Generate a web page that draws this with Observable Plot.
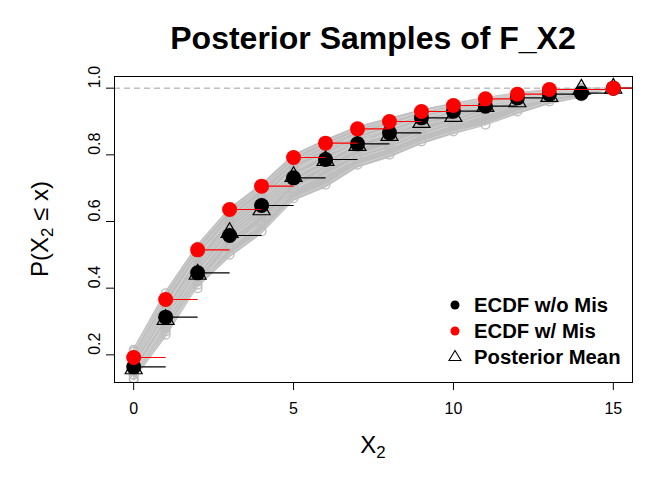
<!DOCTYPE html>
<html><head><meta charset="utf-8">
<script src="https://cdn.jsdelivr.net/npm/d3@7"></script>
<script src="https://cdn.jsdelivr.net/npm/@observablehq/plot@0.6"></script>
<style>
body{margin:0;background:#fff;font-family:"Liberation Sans",Arial,sans-serif;}
#wrap{position:relative;width:672px;height:480px;overflow:hidden;}
.abs{position:absolute;white-space:nowrap;color:#000;}
sub{font-size:70%;vertical-align:-0.3em;line-height:0;}
.leg{position:absolute;left:445px;font-weight:bold;font-size:20.3px;line-height:26px;}
.leg div{display:flex;align-items:center;height:26px;}
.leg svg{width:20px;height:20px;margin-right:9px;}
</style></head><body><div id="wrap"></div>
<script>
// support points
const xs = [0,1,2,3,4,5,6,7,8,9,10,11,12,13,14,15];
// ECDF without missing data (black)
const ecdfObsX = [0,1,2,3,4,5,6,7,8,9,10,11,12,13,14,15];
const ecdfObs  = [0.164,0.313,0.446,0.558,0.648,0.731,0.786,0.833,0.866,0.911,0.931,0.946,0.971,0.982,0.985,1.0];
// ECDF with missing data (red)
const ecdfMisX = [0,1,2,3,4,5,6,7,8,9,10,11,12,13,15];
const ecdfMis  = [0.192,0.366,0.515,0.636,0.706,0.792,0.835,0.878,0.900,0.930,0.948,0.968,0.982,0.996,1.0];
// posterior mean (triangles)
const postMean = [0.158,0.306,0.442,0.567,0.635,0.735,0.783,0.828,0.858,0.897,0.915,0.945,0.959,0.975,0.997,1.0];
// posterior sample band (lowest / highest sample at each x)
const bandLo = [0.120,0.250,0.400,0.490,0.560,0.660,0.700,0.760,0.790,0.830,0.860,0.886,0.920,0.950,0.970,1.0];
const bandHi = [0.218,0.390,0.530,0.640,0.712,0.800,0.845,0.885,0.910,0.935,0.955,0.972,0.986,0.997,1.0,1.0];
// a few posterior sample ECDFs
const samples = [
 [0.125,0.26,0.41,0.50,0.57,0.67,0.71,0.77,0.80,0.84,0.87,0.89,0.93,0.96,0.975,1],
 [0.215,0.385,0.525,0.635,0.705,0.795,0.84,0.88,0.905,0.93,0.95,0.97,0.985,0.995,1,1],
 [0.15,0.29,0.43,0.55,0.62,0.72,0.77,0.82,0.85,0.89,0.91,0.94,0.96,0.98,0.99,1],
 [0.18,0.33,0.47,0.59,0.66,0.76,0.80,0.85,0.88,0.91,0.93,0.955,0.97,0.985,0.995,1],
 [0.14,0.30,0.45,0.56,0.63,0.73,0.79,0.83,0.87,0.90,0.92,0.95,0.965,0.98,0.99,1],
 [0.20,0.35,0.49,0.61,0.68,0.77,0.82,0.86,0.89,0.92,0.94,0.96,0.975,0.99,0.995,1],
 [0.13,0.27,0.42,0.52,0.60,0.70,0.74,0.79,0.82,0.86,0.89,0.92,0.95,0.97,0.985,1],
 [0.17,0.31,0.44,0.57,0.64,0.74,0.78,0.84,0.86,0.90,0.925,0.945,0.96,0.98,0.99,1],
 [0.19,0.34,0.50,0.60,0.67,0.75,0.81,0.86,0.89,0.92,0.945,0.965,0.98,0.99,1,1],
 [0.16,0.32,0.46,0.58,0.65,0.75,0.80,0.84,0.88,0.91,0.935,0.95,0.97,0.985,0.995,1],
 [0.21,0.37,0.51,0.62,0.70,0.78,0.83,0.87,0.90,0.93,0.95,0.97,0.98,0.99,1,1],
 [0.14,0.28,0.40,0.53,0.59,0.69,0.76,0.80,0.83,0.87,0.90,0.93,0.955,0.975,0.99,1]
];
const xTicks = [0,5,10,15];
const yTicks = [0.2,0.4,0.6,0.8,1.0];

const band = xs.map((x,i)=>({x, lo:bandLo[i], hi:bandHi[i]}));
const sampleRows = samples.flatMap((s,k)=>s.map((y,i)=>({s:k, x:xs[i], y})));
const steps = (X,Y)=>X.map((x,i)=>({x, x2: i<X.length-1 ? X[i+1] : x+1, y:Y[i]}));
const blackRows = steps(ecdfObsX, ecdfObs);
const redRows = steps(ecdfMisX, ecdfMis);
const meanRows = xs.map((x,i)=>({x, y:postMean[i]}));

const plot = Plot.plot({
  width:672, height:480,
  marginLeft:114, marginRight:40, marginTop:76, marginBottom:98,
  x:{domain:[-0.6,15.6]},
  y:{domain:[0.117,1.035]},
  style:{fontFamily:"Liberation Sans, Arial, sans-serif", fontSize:"16px", background:"white", color:"black"},
  marks:[
    Plot.areaY(band,{x:"x", y1:"lo", y2:"hi", fill:"#bebebe", clip:true}),
    Plot.line(sampleRows,{x:"x", y:"y", z:"s", stroke:"#d4d4d4", strokeWidth:0.8, clip:true}),
    Plot.dot(sampleRows,{x:"x", y:"y", r:4.3, stroke:"#bebebe", strokeWidth:1.4, fill:"none", clip:true}),
    Plot.ruleY([1],{stroke:"#a0a0a0", strokeDasharray:"6,4", strokeWidth:1}),
    Plot.link(blackRows,{x1:"x", x2:"x2", y1:"y", y2:"y", stroke:"black", strokeWidth:1.2, clip:true}),
    Plot.dot(blackRows,{x:"x", y:"y", r:7.5, fill:"black"}),
    Plot.dot(meanRows,{x:"x", y:"y", r:6.3, symbol:"triangle", stroke:"black", fill:"none", strokeWidth:1.2}),
    Plot.link(redRows,{x1:"x", x2:"x2", y1:"y", y2:"y", stroke:"red", strokeWidth:1.2, clip:true}),
    Plot.dot(redRows,{x:"x", y:"y", r:7.5, fill:"red"}),
    Plot.frame({stroke:"black", strokeWidth:1}),
    Plot.axisX({ticks:xTicks, tickSize:8, tickPadding:12, label:null, fontSize:16}),
    Plot.axisY({ticks:yTicks, tickSize:8, tickFormat:()=>"", label:null}),
    Plot.text(yTicks,{y:d=>d, text:d=>d.toFixed(1), frameAnchor:"left", dx:-20, rotate:-90, fontSize:16})
  ]
});
const wrap = document.getElementById("wrap");
wrap.appendChild(plot);

const title = document.createElement("div");
title.className="abs";
title.style.cssText="left:373px;top:22px;transform:translateX(-50%);font-weight:bold;font-size:32px;line-height:32px;";
title.textContent="Posterior Samples of F_X2";
wrap.appendChild(title);

const xl = document.createElement("div");
xl.className="abs";
xl.style.cssText="left:373px;top:433px;transform:translateX(-50%);font-size:24px;line-height:24px;";
xl.innerHTML="X<sub>2</sub>";
wrap.appendChild(xl);

const yl = document.createElement("div");
yl.className="abs";
yl.style.cssText="left:40px;top:229px;transform:translate(-50%,-50%) rotate(-90deg);font-size:24px;line-height:24px;";
yl.innerHTML="P(X<sub>2</sub> \u2264 x)";
wrap.appendChild(yl);

const legItems = [
  {label:"ECDF w/o Mis", sym:'<circle cx="10" cy="10" r="4.5" fill="black"/>'},
  {label:"ECDF w/ Mis", sym:'<circle cx="10" cy="10" r="4.5" fill="red"/>'},
  {label:"Posterior Mean", sym:'<path d="M10,3.5 L16,13.5 L4,13.5 Z" fill="none" stroke="black" stroke-width="1.1"/>'}
];
const leg = document.createElement("div");
leg.className="leg";
leg.style.top="292px";
leg.innerHTML = legItems.map(d=>`<div><svg viewBox="0 0 20 20">${d.sym}</svg><span>${d.label}</span></div>`).join("");
wrap.appendChild(leg);
</script></body></html>
